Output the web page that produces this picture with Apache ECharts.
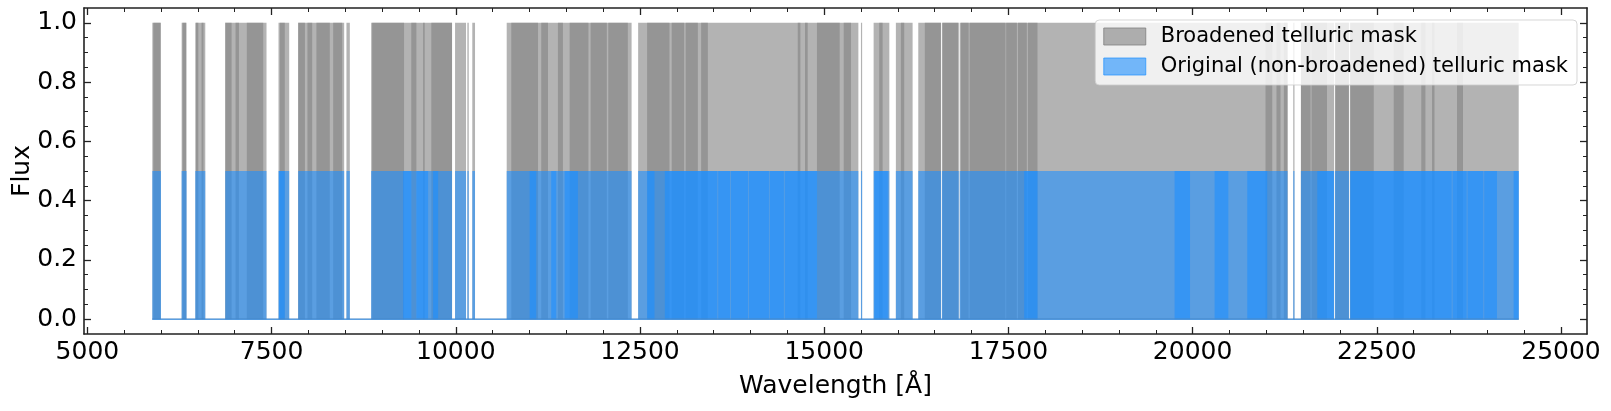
<!DOCTYPE html>
<html><head><meta charset="utf-8">
<script src="https://cdn.jsdelivr.net/npm/echarts@6/dist/echarts.min.js"></script>
<style>html,body{margin:0;padding:0;background:#fff}#c{width:1611px;height:411px}</style>
</head><body><div id="c"></div>
<script>
// ---- tick labels ----
const xMajorTicks = [5000, 7500, 10000, 12500, 15000, 17500, 20000, 22500, 25000];
const xMinorTicks = [5000,5500,6000,6500,7000,7500,8000,8500,9000,9500,10000,10500,11000,11500,12000,12500,13000,13500,14000,14500,15000,15500,16000,16500,17000,17500,18000,18500,19000,19500,20000,20500,21000,21500,22000,22500,23000,23500,24000,24500,25000];
const yMajorTicks = [0, 0.2, 0.4, 0.6, 0.8, 1.0];
const yMinorTicks = [0,0.05,0.1,0.15,0.2,0.25,0.3,0.35,0.4,0.45,0.5,0.55,0.6,0.65,0.7,0.75,0.8,0.85,0.9,0.95,1.0];

// ---- mask levels (flux value of each mask) ----
const broadenedLevel = 1.0;
const originalLevel = 0.5;

// ---- broadened telluric mask: masked wavelength windows [start, end] (Å) ----
const broadenedSegments = [[5881,5999],[6279,6346],[6464,6600],[6871,7431],[7594,7739],[7861,8485],[8516,8562],[8851,9949],[9990,10139],[10157,10176],[10224,10261],[10691,12386],[12475,15464],[15499,15515],[15671,15884],[15973,16200],[16277,16587],[16599,16827],[16839,21289],[21366,21383],[21470,21920],[21932,22123],[22135,24426]];
// densely packed (overlapping) line windows inside the broadened mask
const broadenedOverlaps = [[5895,5990],[6291,6338],[6474,6505],[6550,6576],[6871,6957],[7011,7057],[7164,7386],[7612,7679],[7861,7952],[7987,8051],[8109,8290],[8336,8458],[8865,9298],[9396,9465],[9556,9578],[9668,9949],[10753,11116],[11160,11251],[11386,11454],[11545,11800],[11830,12050],[12070,12335],[12597,12900],[12930,13100],[13120,13285],[13330,13421],[14641,14677],[14740,14776],[14902,15210],[15265,15364],[15747,15793],[16041,16086],[16366,16583],[16607,16819],[16855,16960],[16975,17460],[17470,17615],[17630,17750],[17765,17895],[20990,21081],[21139,21193],[21239,21289],[21471,21600],[21615,21824],[21939,22120],[22142,22459],[22730,22865],[23104,23160],[23250,23283],[23589,23670]];

// ---- original (non-broadened) telluric mask ----
const originalSegments = [[5881,5999],[6279,6346],[6464,6600],[6871,7431],[7594,7739],[7861,8485],[8516,8562],[8851,9949],[9990,10139],[10157,10176],[10224,10261],[10691,12386],[12475,15464],[15499,15515],[15671,15884],[15973,16200],[16277,16587],[16599,16827],[16839,21289],[21366,21383],[21470,21920],[21932,22123],[22135,24426]];
const originalOverlaps = [[7600,7679],[9285,9397],[9465,9624],[9692,9760],[11002,11092],[11295,11363],[11477,11658],[12597,12697],[12837,13550],[13562,13722],[13734,13966],[13978,14250],[14262,14453],[14465,14902],[15680,15864],[17714,17895],[19756,19965],[20299,20485],[20742,21013],[21692,21917],[22143,23517],[23529,23720],[23732,23946],[23958,24131],[24357,24426]];

// ---- styles ----
const GRAY = 'rgba(128,128,128,0.6)';
const BLUE = 'rgba(30,144,255,0.6)';
const FONT = 'DejaVu Sans';
const X_MIN = 4954, X_MAX = 25353, Y_MIN = -0.05, Y_MAX = 1.05;

function toData(list, level) { return list.map(w => [w[0], w[1], level]); }
function extent(list) {
  let lo = Infinity, hi = -Infinity;
  list.forEach(w => { lo = Math.min(lo, w[0]); hi = Math.max(hi, w[1]); });
  return [lo, hi];
}
function rectRenderer(color) {
  return function (params, api) {
    const p0 = api.coord([api.value(0), api.value(2)]);
    const p1 = api.coord([api.value(1), 0]);
    return { type: 'rect', shape: { x: p0[0], y: p0[1], width: p1[0] - p0[0], height: p1[1] - p0[1] }, style: { fill: color } };
  };
}

const bExt = extent(broadenedSegments);
const oExt = extent(originalSegments);

const chart = echarts.init(document.getElementById('c'), null, { renderer: 'canvas' });

function frameLine(show) { return { show: show, onZero: false, lineStyle: { color: '#222', width: 1.6 } }; }
function xAxisDef(pos, major, showLabel) {
  return {
    type: 'value', position: pos, min: X_MIN, max: X_MAX, gridIndex: 0,
    axisLine: frameLine(major),
    splitLine: { show: false },
    axisTick: { show: true, inside: true, length: major ? 7 : 4, customValues: major ? xMajorTicks : xMinorTicks, lineStyle: { color: '#222', width: major ? 1.3 : 1 } },
    axisLabel: showLabel ? { show: true, customValues: xMajorTicks, formatter: v => String(v), fontFamily: FONT, fontSize: 25, color: '#000', margin: 6, hideOverlap: false } : { show: false }
  };
}
function yAxisDef(pos, major, showLabel) {
  return {
    type: 'value', position: pos, min: Y_MIN, max: Y_MAX, gridIndex: 0,
    axisLine: frameLine(major),
    splitLine: { show: false },
    axisTick: { show: true, inside: true, length: major ? 7 : 4, customValues: major ? yMajorTicks : yMinorTicks, lineStyle: { color: '#222', width: major ? 1.3 : 1 } },
    axisLabel: showLabel ? { show: true, customValues: yMajorTicks, formatter: v => v.toFixed(1), fontFamily: FONT, fontSize: 25, color: '#000', margin: 7, hideOverlap: false } : { show: false }
  };
}

const xAxes = [xAxisDef('bottom', true, true), xAxisDef('bottom', false, false), xAxisDef('top', true, false), xAxisDef('top', false, false)];
Object.assign(xAxes[0], { name: 'Wavelength [Å]', nameLocation: 'middle', nameGap: 40, nameMoveOverlap: false, nameTextStyle: { fontFamily: FONT, fontSize: 25, color: '#000' } });
const yAxes = [yAxisDef('left', true, true), yAxisDef('left', false, false), yAxisDef('right', true, false), yAxisDef('right', false, false)];
Object.assign(yAxes[0], { name: 'Flux', nameLocation: 'middle', nameRotate: 90, nameGap: 49, nameMoveOverlap: false, nameTextStyle: { fontFamily: FONT, fontSize: 25, color: '#000' } });

chart.setOption({
  animation: false,
  backgroundColor: '#fff',
  grid: { left: 84, right: 24, top: 8, bottom: 77, containLabel: false, outerBoundsMode: 'none' },
  xAxis: xAxes,
  yAxis: yAxes,
  legend: {
    show: true, orient: 'vertical', right: 34, top: 20,
    selectedMode: false, icon: 'rect',
    itemWidth: 42, itemHeight: 17, itemGap: 9,
    padding: [6, 9, 8, 8],
    backgroundColor: 'rgba(255,255,255,0.8)', borderColor: 'rgba(204,204,204,0.8)', borderWidth: 1, borderRadius: 4,
    textStyle: { fontFamily: FONT, fontSize: 21, lineHeight: 21, color: '#000', padding: [0, 0, 0, 10] },
    data: [
      { name: 'Broadened telluric mask', itemStyle: { color: GRAY, borderColor: 'rgba(128,128,128,0.8)', borderWidth: 1 } },
      { name: 'Original (non-broadened) telluric mask', itemStyle: { color: BLUE, borderColor: 'rgba(30,144,255,0.7)', borderWidth: 1 } }
    ]
  },
  series: [
    { name: 'Broadened telluric mask', type: 'custom', xAxisIndex: 0, yAxisIndex: 0, clip: true,
      itemStyle: { color: GRAY },
      encode: { x: [0, 1], y: 2 },
      renderItem: rectRenderer(GRAY),
      data: toData(broadenedSegments.concat(broadenedOverlaps), broadenedLevel) },
    { name: 'broadened-baseline', type: 'line', xAxisIndex: 0, yAxisIndex: 0, symbol: 'none', silent: true,
      lineStyle: { color: GRAY, width: 1.5 }, data: [[bExt[0], 0], [bExt[1], 0]] },
    { name: 'Original (non-broadened) telluric mask', type: 'custom', xAxisIndex: 0, yAxisIndex: 0, clip: true,
      itemStyle: { color: BLUE },
      encode: { x: [0, 1], y: 2 },
      renderItem: rectRenderer(BLUE),
      data: toData(originalSegments.concat(originalOverlaps), originalLevel) },
    { name: 'original-baseline', type: 'line', xAxisIndex: 0, yAxisIndex: 0, symbol: 'none', silent: true,
      lineStyle: { color: BLUE, width: 1.5 }, data: [[oExt[0], 0], [oExt[1], 0]] }
  ]
});
</script>
</body></html>
